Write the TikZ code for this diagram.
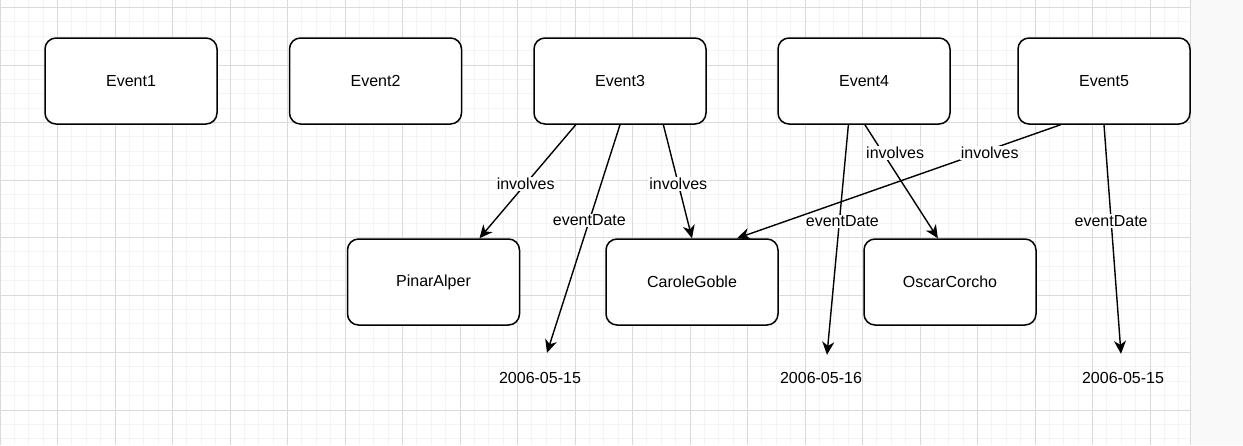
\documentclass[tikz,border=0pt]{standalone}
\usepackage{fontspec}
\setmainfont{Liberation Sans}
\usetikzlibrary{arrows.meta,calc,positioning}
\definecolor{gridmajor}{HTML}{DADADA}
\definecolor{gridminor}{HTML}{F4F4F4}
\definecolor{paneback}{HTML}{F9F9F9}
\tikzset{
  box/.style={draw, line width=1.5pt, rounded corners=11pt, minimum width=172pt,
    minimum height=86pt, fill=white, font=\fontsize{16}{19}\selectfont},
  datetext/.style={minimum height=50pt, inner sep=0pt, font=\fontsize{16}{19}\selectfont},
  link/.style={line width=1.4pt, -{Stealth[length=13pt,width=12pt,inset=4pt]}},
  edgelabel/.style={fill=white, inner sep=1pt, font=\fontsize{16}{19}\selectfont},
}

\begin{document}
\begin{tikzpicture}[x=1pt, y=-1pt]
    \useasboundingbox (0,0) rectangle (1243,445);
    \fill[white] (0,0) rectangle (1190,445);
    \fill[paneback] (1190,0) rectangle (1243,445);
    \foreach \i in {0,...,82}
        \draw[gridminor, line width=0.8pt] (14.375*\i,0) -- (14.375*\i,445);
    \foreach \j in {0,...,30}
        \draw[gridminor, line width=0.8pt] (0,7.5+14.375*\j) -- (1190,7.5+14.375*\j);
    \foreach \i in {0,...,20}
        \draw[gridmajor, line width=0.9pt] (57.5*\i,0) -- (57.5*\i,445);
    \foreach \j in {0,...,7}
        \draw[gridmajor, line width=0.9pt] (0,7.5+57.5*\j) -- (1190,7.5+57.5*\j);
    \draw[gridmajor, line width=1pt] (1190,0) -- (1190,445);

    \foreach \n/\x in {1/131, 2/375.5, 3/620, 4/864, 5/1104}
        \node[box] (e\n) at (\x,81) {Event\n};

    \node[box] (pinar) at (433.5,282) {PinarAlper};
    \node[box] (carole) at (692,282) {CaroleGoble};
    \node[box] (oscar) at (950,282) {OscarCorcho};

    \node[datetext] (d1) at (540,378) {2006-05-15};
    \node[datetext] (d2) at (821,378) {2006-05-16};
    \node[datetext] (d3) at (1123,378) {2006-05-15};

    \draw[link] ($(e3.south west)!0.245!(e3.south east)$) -- node[edgelabel, pos=0.52] {involves} ($(pinar.north west)!0.765!(pinar.north east)$);
    \draw[link] (e3.south) -- node[edgelabel, pos=0.42] {eventDate} ($(d1.north)+(7,0)$);
    \draw[link] ($(e3.south west)!0.75!(e3.south east)$) -- node[edgelabel, pos=0.52] {involves} (carole.north);
    \draw[link] ($(e4.south west)!0.41!(e4.south east)$) -- node[edgelabel, pos=0.42, xshift=3pt] {eventDate} ($(d2.north)+(6,2)$);
    \draw[link] ($(e4.south west)!0.505!(e4.south east)$) -- node[edgelabel, pos=0.25, xshift=12pt] {involves} ($(oscar.north west)!0.43!(oscar.north east)$);
    \draw[link] ($(e5.south west)!0.25!(e5.south east)$) -- node[edgelabel, pos=0.25, xshift=10pt] {involves} ($(carole.north west)!0.76!(carole.north east)$);
    \draw[link] (e5.south) -- node[edgelabel, pos=0.42] {eventDate} ($(d3.north)+(-2,1)$);
\end{tikzpicture}
\end{document}
